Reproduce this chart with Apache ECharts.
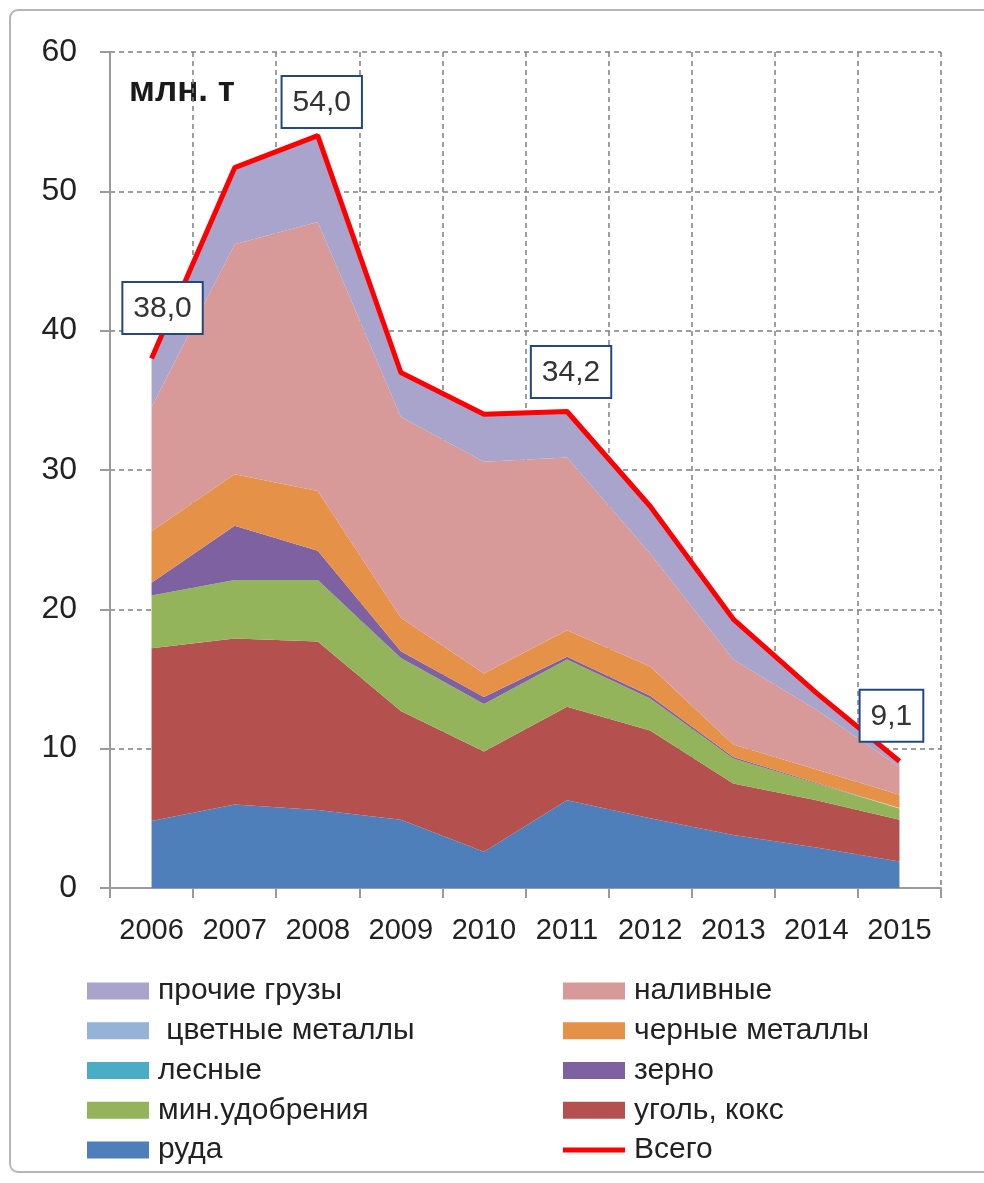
<!DOCTYPE html>
<html lang="ru">
<head>
    <meta charset="UTF-8">
    <script src="https://cdn.jsdelivr.net/npm/echarts@6/dist/echarts.min.js"></script>
    <style>
        html, body {margin:0; padding:0; background:#fff;}
        #chart {width:984px; height:1183px;}
    </style>
    <title>Грузы</title>
    <script>
        // годы
        const years = ['2006', '2007', '2008', '2009', '2010', '2011', '2012', '2013', '2014', '2015'];
        // млн. т по видам груза (снизу вверх)
        const ruda      = [4.8, 6.0, 5.6, 4.9, 2.6, 6.3, 5.0, 3.8, 2.9, 1.9];
        const ugol      = [12.4, 11.9, 12.1, 7.8, 7.2, 6.7, 6.3, 3.7, 3.4, 3.0];
        const udobr     = [3.8, 4.2, 4.4, 3.8, 3.4, 3.4, 2.3, 1.8, 1.2, 0.8];
        const lesnye    = [0, 0, 0, 0, 0, 0, 0, 0, 0, 0];
        const zerno     = [0.9, 3.9, 2.1, 0.5, 0.5, 0.2, 0.2, 0.1, 0.05, 0.05];
        const chernye   = [3.7, 3.7, 4.3, 2.4, 1.7, 1.9, 2.1, 0.9, 0.95, 0.95];
        const nalivnye  = [8.9, 16.5, 19.3, 14.4, 15.2, 12.4, 8.1, 6.1, 4.3, 2.0];
        const cvetnye   = [0, 0, 0, 0, 0, 0, 0, 0, 0, 0];
        const prochie   = [3.5, 5.5, 6.2, 3.2, 3.4, 3.3, 3.4, 2.9, 1.2, 0.4];
        const total     = [38.0, 51.7, 54.0, 37.0, 34.0, 34.2, 27.4, 19.3, 14.0, 9.1];
        const yTicks    = [0, 10, 20, 30, 40, 50, 60];

        const FONT = "'Liberation Sans', Arial, sans-serif";
        // подписанные точки итога (индекс -> смещение подписи [dx, dy])
        const labelOffsets = {0: [11, -20], 2: [4, -3], 5: [4, -9], 9: [-8, -15]};

        window.onload = function () {
            const chart = echarts.init(document.getElementById('chart'));

            function area(name, data, color) {
                return {
                    name: name, type: 'line', stack: 'all', data: data,
                    symbol: 'none', showSymbol: false,
                    color: color,
                    lineStyle: {width: 0, color: color},
                    areaStyle: {color: color, opacity: 1},
                    emphasis: {disabled: true}
                };
            }

            // точки с подписями (невидимый scatter поверх линии)
            const labelPoints = Object.keys(labelOffsets).map(k => {
                const i = +k;
                return {value: [years[i], total[i]], label: {offset: labelOffsets[i]}};
            });

            const series = [
                area('руда', ruda, '#4f7fba'),
                area('уголь, кокс', ugol, '#b4514f'),
                area('мин.удобрения', udobr, '#93b45b'),
                area('лесные', lesnye, '#4bacc6'),
                area('зерно', zerno, '#7e61a1'),
                area('черные металлы', chernye, '#e59148'),
                area('наливные', nalivnye, '#d89a98'),
                area(' цветные металлы', cvetnye, '#95b3d7'),
                area('прочие грузы', prochie, '#a8a4cb'),
                {
                    name: 'Всего', type: 'line', data: total,
                    symbol: 'none', showSymbol: false, color: '#ff0000', z: 5,
                    lineStyle: {width: 5, color: '#ff0000'},
                    emphasis: {disabled: true}
                },
                {
                    name: 'метки', type: 'scatter', data: labelPoints,
                    symbolSize: 1, itemStyle: {color: 'rgba(0,0,0,0)', opacity: 1}, z: 6,
                    silent: true,
                    label: {
                        show: true, position: 'top', distance: 5,
                        formatter: p => p.value[1].toFixed(1).replace('.', ','),
                        fontFamily: FONT, fontSize: 30, color: '#333',
                        backgroundColor: '#fff', borderColor: '#24487e', borderWidth: 2,
                        padding: [9, 10, 7, 10], lineHeight: 34
                    }
                }
            ];

            const legendText = {fontFamily: FONT, fontSize: 30, color: '#222', lineHeight: 30, padding: [0, 0, 0, 4]};

            chart.setOption({
                animation: false,
                textStyle: {fontFamily: FONT},
                grid: {left: 110, right: 43, top: 52, bottom: 295},
                legend: [
                    {
                        orient: 'vertical', left: 82, top: 971, itemWidth: 62, itemHeight: 17, itemGap: 9.75,
                        textStyle: legendText, selectedMode: false,
                        data: ['прочие грузы', ' цветные металлы', 'лесные', 'мин.удобрения', 'руда'].map(n => ({name: n, icon: 'rect'}))
                    },
                    {
                        orient: 'vertical', left: 558, top: 971, itemWidth: 62, itemHeight: 17, itemGap: 9.75,
                        textStyle: legendText, selectedMode: false,
                        data: [
                            {name: 'наливные', icon: 'rect'},
                            {name: 'черные металлы', icon: 'rect'},
                            {name: 'зерно', icon: 'rect'},
                            {name: 'уголь, кокс', icon: 'rect'},
                            {name: 'Всего', icon: 'path://M0,0 L62,0 L62,5 L0,5 Z'}
                        ]
                    }
                ],
                xAxis: {
                    type: 'category', data: years, boundaryGap: true,
                    axisLine: {show: true, lineStyle: {color: '#9a9a9a', width: 2}},
                    axisTick: {show: true, length: 10, lineStyle: {color: '#9a9a9a', width: 2}},
                    axisLabel: {interval: 0, margin: 28, fontSize: 29, color: '#222', fontFamily: FONT},
                    splitLine: {show: true, lineStyle: {color: '#7f7f7f', type: [5, 4], width: 1.5}}
                },
                yAxis: {
                    type: 'value', min: yTicks[0], max: yTicks[yTicks.length - 1], interval: 10,
                    axisLine: {show: true, lineStyle: {color: '#9a9a9a', width: 2}},
                    axisTick: {show: true, length: 10, lineStyle: {color: '#9a9a9a', width: 2}},
                    axisLabel: {margin: 33, fontSize: 32, color: '#222', fontFamily: FONT},
                    splitLine: {show: true, lineStyle: {color: '#7f7f7f', type: [5, 4], width: 1.5}}
                },
                graphic: [
                    {
                        type: 'rect', shape: {x: 10, y: 10, width: 1000, height: 1162, r: 8},
                        style: {fill: 'none', stroke: '#b5b5b5', lineWidth: 2}, z: -1
                    },
                    {
                        type: 'text', left: 129, top: 74,
                        style: {text: 'млн. т', fontFamily: FONT, fontSize: 35, fontWeight: 'bold', fill: '#1a1a1a'}
                    }
                ],
                series: series
            });
        };
    </script>
</head>
<body>
    <div id="chart"></div>
</body>
</html>
